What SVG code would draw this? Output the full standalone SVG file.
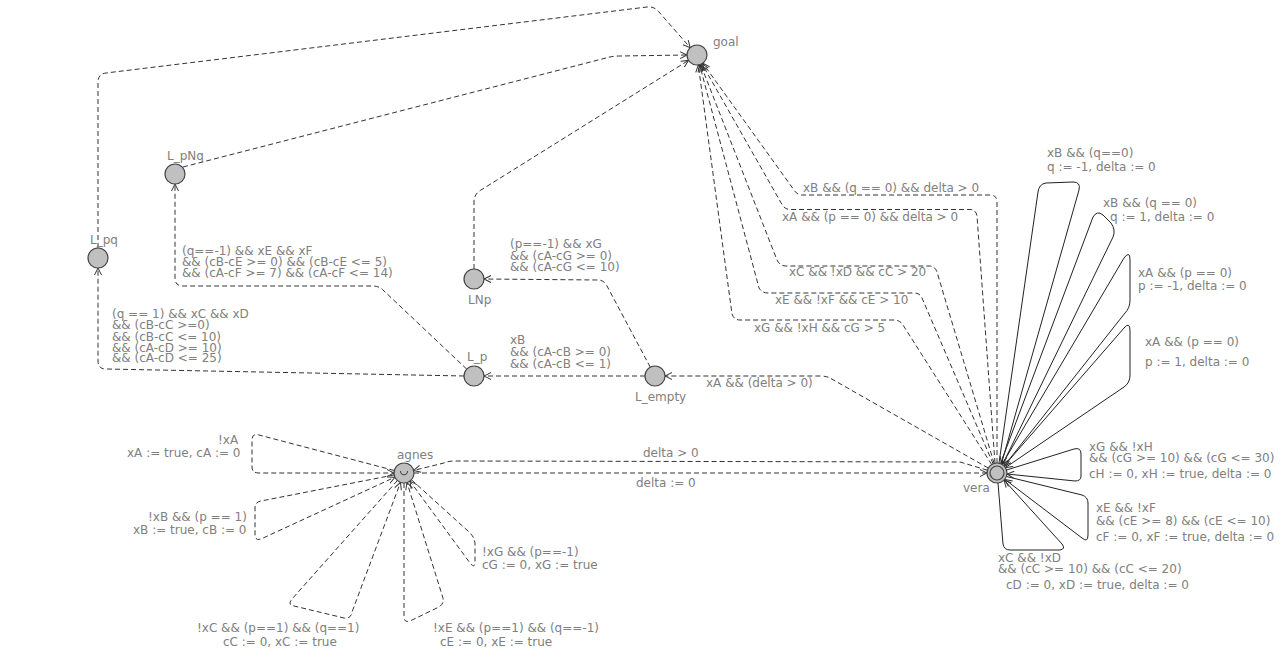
<svg xmlns="http://www.w3.org/2000/svg" width="1288" height="655" viewBox="0 0 1288 655">
<defs>
<marker id="ah" markerUnits="userSpaceOnUse" markerWidth="14" markerHeight="14" viewBox="-10 -7 14 14" refX="0" refY="0" orient="auto" overflow="visible">
<path d="M-7,-3.5 L0,0 L-7,3.5" fill="none" stroke="#333" stroke-width="1" stroke-dasharray="none"/>
</marker>
</defs>
<style>
.bg{fill:#ffffff}
.node circle{fill:#c0c0c0;stroke:#444;stroke-width:1.2}
.node .in{fill:#c0c0c0;stroke:#444;stroke-width:1.2}
.node path{fill:none;stroke:#444;stroke-width:1.1}
.d{fill:none;stroke:#333;stroke-width:1;stroke-dasharray:5 3;marker-end:url(#ah)}
.s{fill:none;stroke:#222;stroke-width:1;marker-end:url(#ah)}
text{font-family:"DejaVu Sans","Noto Sans",sans-serif;font-size:12px;fill:#808080}
</style>
<rect class="bg" x="0" y="0" width="1288" height="655"/>

<g id="connectors">
<path class="d" d="M98,248 L98,82 Q98,74 106,73 L647,7 Q654,6 659,12 L690.2,47.7"/>
<path class="d" d="M183,167 L606,58 Q612,56 620,56 L687,55"/>
<path class="d" d="M474,269 L474,202 Q474,194 481,190 L688.5,60.4"/>
<path class="d" d="M997,463 L997,202 Q997,195 990,195 L802,195 Q797,195 794,190 L702.8,63.2"/>
<path class="d" d="M995,463 L977,216 Q976,209.5 970,209.5 L790,209.5 Q785,209.5 782,204.5 L701.9,63.7"/>
<path class="d" d="M994.1,463.4 L937,272 Q935,266 929,266 L786,266 Q780,266 777,260 L700.6,64.3"/>
<path class="d" d="M993.1,463.8 L922,298 Q920,293 914,293 L768,293 Q762,293 759,288 L699.6,64.7"/>
<path class="d" d="M991.7,464.6 L903,325 Q900,320 894,320 L740,320 Q734,320 732,314 L698.3,64.9"/>
<path class="d" d="M988.3,468.1 L830,378 Q826,376 820,376 L665,376"/>
<path class="d" d="M645,376 L484,376"/>
<path class="d" d="M650.3,367.2 L607,286 Q604,280 598,280 L484,279"/>
<path class="d" d="M466.7,369.1 L383,290 Q379,286 373,286 L183,286 Q175,286 175,278 L175,184"/>
<path class="d" d="M464,376 L106,369 Q98,369 98,361 L98,268"/>
<path class="d" d="M987.4,470.2 L960,462 L455,461 Q448,461 444,463 L413.6,470.4"/>
<path class="d" d="M414,473 L987,473"/>
<path class="s" d="M999,463 L1038,192 Q1039,184 1046,183 L1073,182 Q1081,182 1079,190 L1001.5,463.5"/>
<path class="s" d="M1000.5,463.6 L1093,217 Q1097,210 1103,215 L1111,223 Q1116,230 1113,237 L1002.5,464.6"/>
<path class="s" d="M1002,464.5 L1124,258 Q1130,250 1130,260 L1130,300 Q1130,308 1125,313 L1004,466"/>
<path class="s" d="M1004,466 L1124,328 Q1130,321 1130,331 L1130,375 Q1130,383 1124,387 L1005.5,467.5"/>
<path class="s" d="M1006.6,470 L1074,449 Q1081,447 1081,454 L1081,476 Q1081,481 1075,481 L1007,474"/>
<path class="s" d="M1006.5,476.5 L1082,495 Q1088,497 1088,503 L1088,535 Q1088,543 1082,538 L1005,479.5"/>
<path class="s" d="M998,483 L1003,544 Q1004,550 1010,550 L1060,550 Q1066,549 1062,544 L1004,480"/>
<path class="d" d="M394.3,470.5 L259,435 Q252,433 252,440 L252,467 Q252,473 259,473 L394,473"/>
<path class="d" d="M394.2,474.9 L261,501 Q255,502 255,508 L255,535 Q255,541 261,539 L394.9,477.2"/>
<path class="d" d="M397.4,480.5 L292,599 Q287,605 294,606 L344,618 Q351,619 352,612 L400.5,482.4"/>
<path class="d" d="M404,483 L404,617 Q404,623 410,621 L439,607 Q444,604 443,598 L407,482.5"/>
<path class="d" d="M411.4,479.7 L468,531 Q475,537 475,544 L475,562 Q475,569 470,563 L409.9,481.1"/>
</g>

<g id="edge-labels">
<text x="803" y="192">xB &amp;&amp; (q == 0) &amp;&amp; delta &gt; 0</text>
<text x="782" y="220.5">xA &amp;&amp; (p == 0) &amp;&amp; delta &gt; 0</text>
<text x="789" y="276">xC &amp;&amp; !xD &amp;&amp; cC &gt; 20</text>
<text x="775" y="304">xE &amp;&amp; !xF &amp;&amp; cE &gt; 10</text>
<text x="754" y="332">xG &amp;&amp; !xH &amp;&amp; cG &gt; 5</text>
<text x="706" y="387">xA &amp;&amp; (delta &gt; 0)</text>
<text x="510" y="344">xB</text>
<text x="510" y="356">&amp;&amp; (cA-cB &gt;= 0)</text>
<text x="510" y="367.5">&amp;&amp; (cA-cB &lt;= 1)</text>
<text x="510" y="248">(p==-1) &amp;&amp; xG</text>
<text x="510" y="259.5">&amp;&amp; (cA-cG &gt;= 0)</text>
<text x="510" y="271">&amp;&amp; (cA-cG &lt;= 10)</text>
<text x="182" y="255">(q==-1) &amp;&amp; xE &amp;&amp; xF</text>
<text x="182" y="266">&amp;&amp; (cB-cE &gt;= 0) &amp;&amp; (cB-cE &lt;= 5)</text>
<text x="182" y="277">&amp;&amp; (cA-cF &gt;= 7) &amp;&amp; (cA-cF &lt;= 14)</text>
<text x="112" y="318">(q == 1) &amp;&amp; xC &amp;&amp; xD</text>
<text x="112" y="329">&amp;&amp; (cB-cC &gt;=0)</text>
<text x="112" y="340.5">&amp;&amp; (cB-cC &lt;= 10)</text>
<text x="112" y="351.5">&amp;&amp; (cA-cD &gt;= 10)</text>
<text x="112" y="362">&amp;&amp; (cA-cD &lt;= 25)</text>
<text x="643" y="457">delta &gt; 0</text>
<text x="636" y="487">delta := 0</text>
<text x="1047" y="157">xB &amp;&amp; (q==0)</text>
<text x="1047" y="171">q := -1, delta := 0</text>
<text x="1103" y="207">xB &amp;&amp; (q == 0)</text>
<text x="1110" y="221">q := 1, delta := 0</text>
<text x="1138" y="277">xA &amp;&amp; (p == 0)</text>
<text x="1138" y="290">p := -1, delta := 0</text>
<text x="1145" y="346">xA &amp;&amp; (p == 0)</text>
<text x="1145" y="366">p := 1, delta := 0</text>
<text x="1089" y="451">xG &amp;&amp; !xH</text>
<text x="1089" y="462">&amp;&amp; (cG &gt;= 10) &amp;&amp; (cG &lt;= 30)</text>
<text x="1089" y="478">cH := 0, xH := true, delta := 0</text>
<text x="1096" y="512">xE &amp;&amp; !xF</text>
<text x="1096" y="525">&amp;&amp; (cE &gt;= 8) &amp;&amp; (cE &lt;= 10)</text>
<text x="1096" y="541">cF := 0, xF := true, delta := 0</text>
<text x="998" y="562">xC &amp;&amp; !xD</text>
<text x="998" y="573">&amp;&amp; (cC &gt;= 10) &amp;&amp; (cC &lt;= 20)</text>
<text x="1006" y="589">cD := 0, xD := true, delta := 0</text>
<text x="218" y="444">!xA</text>
<text x="127" y="457">xA := true, cA := 0</text>
<text x="148" y="521">!xB &amp;&amp; (p == 1)</text>
<text x="133" y="534">xB := true, cB := 0</text>
<text x="197" y="632">!xC &amp;&amp; (p==1) &amp;&amp; (q==1)</text>
<text x="223" y="646">cC := 0, xC := true</text>
<text x="433" y="632">!xE &amp;&amp; (p==1) &amp;&amp; (q==-1)</text>
<text x="440" y="646">cE := 0, xE := true</text>
<text x="482" y="556">!xG &amp;&amp; (p==-1)</text>
<text x="482" y="569">cG := 0, xG := true</text>
</g>

<g id="goal" class="node"><circle cx="697" cy="55" r="10"/><text x="713" y="46">goal</text></g>
<g id="L_pNq" class="node"><circle cx="175" cy="174" r="10"/><text x="167" y="160">L_pNq</text></g>
<g id="L_pq" class="node"><circle cx="98" cy="258" r="10"/><text x="90" y="244">L_pq</text></g>
<g id="LNp" class="node"><circle cx="474" cy="279" r="10"/><text x="468" y="304">LNp</text></g>
<g id="L_p" class="node"><circle cx="474" cy="376" r="10"/><text x="467" y="361">L_p</text></g>
<g id="L_empty" class="node"><circle cx="655" cy="376" r="10"/><text x="635" y="401">L_empty</text></g>
<g id="agnes" class="node"><circle cx="404" cy="473" r="10"/><path d="M400.5,471 A3.5,3.8 0 0 0 407.5,471"/><text x="397" y="459">agnes</text></g>
<g id="vera" class="node"><circle cx="997" cy="473" r="10"/><circle class="in" cx="997" cy="473" r="7"/><text x="963" y="492">vera</text></g>
</svg>
